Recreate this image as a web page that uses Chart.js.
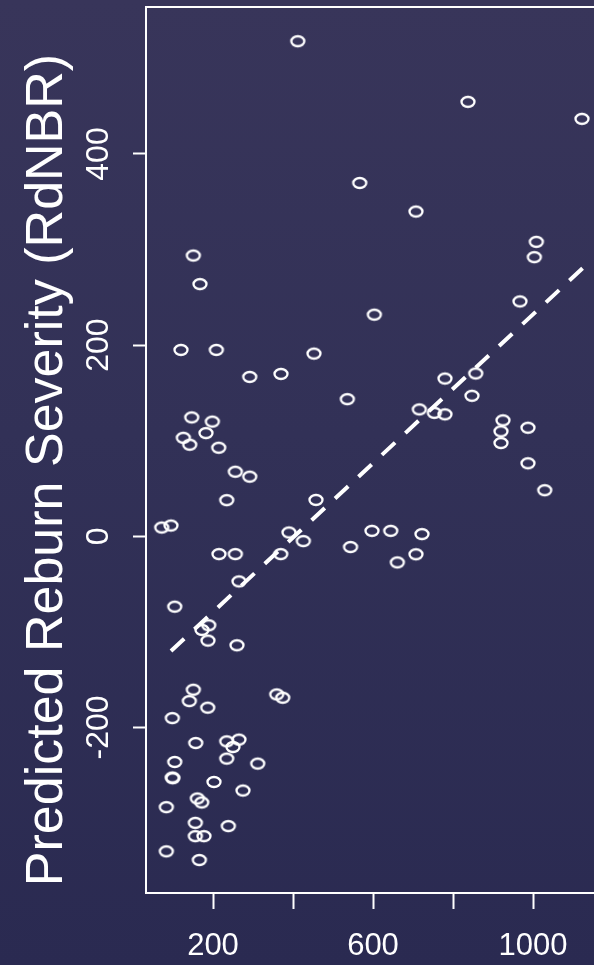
<!DOCTYPE html>
<html>
<head>
<meta charset="utf-8">
<script src="https://cdn.jsdelivr.net/npm/chart.js@4.4.1/dist/chart.umd.min.js"></script>
<style>
  html, body { margin: 0; padding: 0; }
  body {
    width: 594px; height: 965px; overflow: hidden;
    background: linear-gradient(180deg, #38355a 0%, #323157 45%, #2a2a51 100%);
  }
  #wrap { width: 594px; height: 965px; overflow: hidden; position: relative; }
  canvas { display: block; }
</style>
</head>
<body>
<div id="wrap"><canvas id="c" width="620" height="965" style="width:620px;height:965px"></canvas></div>
<script>
// Observed values (x) and predicted reburn severity (y), one entry per site
const obsX = [
  412, 837.5, 1122.5, 566.8, 707.5, 1008.3, 1003.3, 150.8, 167.5, 120,
  208.3, 452.5, 291.8, 370, 146.8, 198.3, 182.5, 125.8, 141.8, 214.3,
  255.8, 291.8, 234.3, 457.5, 603.3, 967.5, 535.8, 780, 856.8, 847.5,
  715.8, 753.3, 780, 925, 920, 920, 987.5, 987.5, 1029.3, 597.5,
  644.3, 722.5, 543.8, 707.5, 660.8, 71.8, 95, 390, 425.8, 215,
  255.8, 369.3, 265, 104.3, 189.3, 172.5, 187.5, 260, 150.8, 140.8,
  186.8, 98.3, 359.3, 374.3, 156.8, 234.3, 265, 250, 234.3, 104.3,
  311.8, 98.3, 99.5, 202.5, 275, 160.8, 171.8, 83.3, 155.8, 238.3,
  155.8, 177.5, 83.3, 165.8
];
const predY = [
  518, 454.6, 436.8, 369.7, 339.8, 308.1, 292.1, 293.8, 263.9, 195,
  195, 191.2, 166.8, 169.9, 124.4, 120, 108, 103.1, 95.8, 92.7,
  67.6, 62.4, 37.8, 38.1, 231.9, 245.8, 143.5, 165.1, 170.4, 147,
  132.8, 129.2, 127.6, 121.3, 109.8, 97.6, 113.6, 76.4, 48.2, 5.7,
  5.7, 2.3, -11.2, -18.8, -27.3, 9.2, 11.3, 4, -5, -18.6,
  -18.6, -18.6, -47.2, -73.6, -93.1, -97.9, -109.1, -114, -160.5, -172.4,
  -179.3, -190.2, -165.4, -168.9, -216.3, -214.5, -212.7, -220.5, -232.6, -236.1,
  -237.8, -252.4, -253.1, -257, -266, -274.3, -278.5, -283.4, -299.8, -303.2,
  -313.7, -313.7, -329.6, -338.7
];
// Fitted trend line end points
const fitX = [95, 1128];
const fitY = [-120, 282];

const xTickValues = [200, 400, 600, 800, 1000];
const xTickLabels = ['200', '', '600', '', '1000'];
const yTickValues = [-200, 0, 200, 400];
const yTickLabels = ['-200', '0', '200', '400'];
const yTitle = 'Predicted Reburn Severity (RdNBR)';

const FONT = '"Liberation Sans", Arial, Helvetica, sans-serif';
const INK = '#ffffff';

// open-ring marker
function ringMarker() {
  const c = document.createElement('canvas');
  c.width = 20; c.height = 16;
  const g = c.getContext('2d');
  g.strokeStyle = INK;
  g.lineWidth = 2.3;
  g.beginPath();
  g.ellipse(10, 8, 6.5, 5.0, 0, 0, Math.PI * 2);
  g.stroke();
  return c;
}

const scatterPts = obsX.map((x, i) => ({ x: x, y: predY[i] }));
const fitPts = fitX.map((x, i) => ({ x: x, y: fitY[i] }));

const frameAndLabels = {
  id: 'frameAndLabels',
  afterDraw(chart) {
    const { ctx, chartArea: a, scales } = chart;
    ctx.save();
    // plot box
    ctx.strokeStyle = INK;
    ctx.lineWidth = 2;
    ctx.strokeRect(a.left, a.top, a.right - a.left, a.bottom - a.top);
    // y tick labels, parallel to the axis
    ctx.fillStyle = INK;
    ctx.font = '32px ' + FONT;
    ctx.textAlign = 'center';
    ctx.textBaseline = 'alphabetic';
    yTickValues.forEach((v, i) => {
      const py = scales.y.getPixelForValue(v);
      ctx.save();
      ctx.translate(108, py);
      ctx.rotate(-Math.PI / 2);
      ctx.fillText(yTickLabels[i], 0, 0);
      ctx.restore();
    });
    // y axis title
    ctx.font = '52px ' + FONT;
    ctx.save();
    ctx.translate(62, 470);
    ctx.rotate(-Math.PI / 2);
    ctx.fillText(yTitle, 0, 0);
    ctx.restore();
    ctx.restore();
  }
};

new Chart(document.getElementById('c'), {
  type: 'scatter',
  data: {
    datasets: [
      {
        type: 'line',
        data: fitPts,
        borderColor: INK,
        borderWidth: 4,
        borderDash: [18, 14],
        pointRadius: 0,
        fill: false,
        tension: 0,
        order: 1
      },
      {
        data: scatterPts,
        pointStyle: ringMarker(),
        pointRadius: 6,
        borderColor: INK,
        backgroundColor: 'rgba(0,0,0,0)',
        order: 2
      }
    ]
  },
  options: {
    responsive: false,
    animation: false,
    devicePixelRatio: 1,
    layout: { padding: { left: 0, top: 5, right: 20, bottom: 0 } },
    plugins: { legend: { display: false }, tooltip: { enabled: false } },
    scales: {
      x: {
        type: 'linear',
        min: 32.5,
        max: 1167.5,
        afterBuildTicks(s) { s.ticks = xTickValues.map(v => ({ value: v })); },
        afterFit(s) { s.height = 72; },
        border: { display: false },
        grid: {
          drawOnChartArea: false,
          drawTicks: true,
          tickLength: 16,
          tickColor: INK,
          tickWidth: 2
        },
        ticks: {
          autoSkip: false,
          maxRotation: 0,
          padding: 19,
          color: INK,
          font: { family: FONT, size: 31 },
          callback: (v) => xTickLabels[xTickValues.indexOf(v)] ?? ''
        }
      },
      y: {
        type: 'linear',
        min: -373.2,
        max: 553.8,
        afterBuildTicks(s) { s.ticks = yTickValues.map(v => ({ value: v })); },
        afterFit(s) { s.width = 146; },
        border: { display: false },
        grid: {
          drawOnChartArea: false,
          drawTicks: true,
          tickLength: 13,
          tickColor: INK,
          tickWidth: 2
        },
        ticks: { display: false }
      }
    }
  },
  plugins: [frameAndLabels]
});
</script>
</body>
</html>
